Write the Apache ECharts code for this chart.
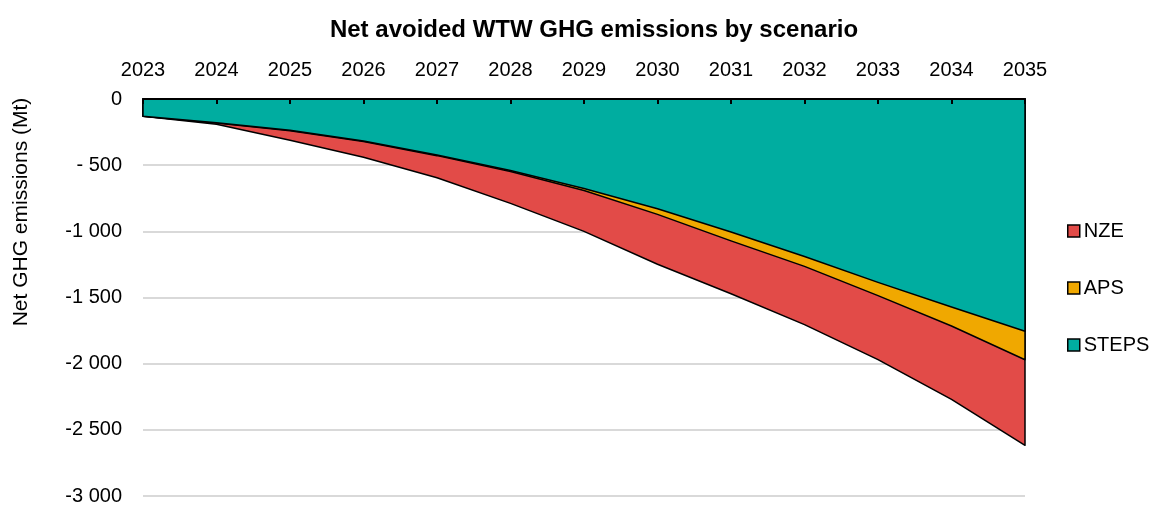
<!DOCTYPE html>
<html>
<head>
<meta charset="utf-8">
<script src="https://cdn.jsdelivr.net/npm/echarts@6/dist/echarts.min.js"></script>
<style>
html,body{margin:0;padding:0;background:#fff;}
#chart{width:1149px;height:506px;}
</style>
</head>
<body>
<div id="chart"></div>
<script>
var years = ['2023','2024','2025','2026','2027','2028','2029','2030','2031','2032','2033','2034','2035'];
var steps = [-130, -180, -237, -318, -423, -540, -677, -830, -1005, -1190, -1386, -1572, -1755];
var aps   = [-130, -182, -240, -322, -428, -548, -692, -872, -1072, -1265, -1486, -1715, -1970];
var nze   = [-130, -190, -312, -440, -595, -789, -1000, -1249, -1472, -1705, -1970, -2270, -2617];
var yTickValues = [0, -500, -1000, -1500, -2000, -2500, -3000];
var yTickLabels = ['0', '- 500', '-1 000', '-1 500', '-2 000', '-2 500', '-3 000'];

var colors = {NZE: '#e24b48', APS: '#f0a800', STEPS: '#00ada0'};
var FONT = 'Liberation Sans, Arial, sans-serif';

function makeSeries(name, values) {
  return {
    name: name,
    type: 'custom',
    itemStyle: {color: colors[name]},
    encode: {x: 0, y: 1},
    data: values.map(function (v, i) { return [i, v]; }),
    renderItem: function (params, api) {
      if (params.dataIndex !== 0) return null;
      var pts = [api.coord([0, 0])];
      for (var i = 0; i < values.length; i++) pts.push(api.coord([i, values[i]]));
      pts.push(api.coord([values.length - 1, 0]));
      return {
        type: 'polygon',
        shape: {points: pts},
        style: {fill: colors[name], stroke: '#000', lineWidth: 1.5, lineJoin: 'round'}
      };
    }
  };
}

var chart = echarts.init(document.getElementById('chart'));
chart.setOption({
  animation: false,
  backgroundColor: '#fff',
  textStyle: {fontFamily: FONT},
  title: {
    text: 'Net avoided WTW GHG emissions by scenario',
    left: 589, top: 13, textAlign: 'center',
    textStyle: {fontSize: 24, fontWeight: 'bold', color: '#000', fontFamily: FONT}
  },
  grid: {left: 143, right: 124, top: 99, bottom: 5, containLabel: false},
  legend: {
    orient: 'vertical', left: 1062, top: 216,
    itemWidth: 12, itemHeight: 12, itemGap: 37,
    icon: 'rect',
    data: ['NZE', 'APS', 'STEPS'],
    itemStyle: {borderColor: '#000', borderWidth: 1.5},
    textStyle: {fontSize: 20, color: '#000', padding: [0, 0, 0, -1], fontFamily: FONT}
  },
  xAxis: {
    type: 'category', data: years, position: 'top', boundaryGap: false,
    axisLine: {show: true, lineStyle: {color: '#000', width: 2}},
    axisTick: {show: true, inside: true, length: 5, lineStyle: {color: '#000', width: 2}},
    axisLabel: {fontSize: 20, color: '#000', margin: 19, fontFamily: FONT},
    splitLine: {show: false},
    z: 10
  },
  yAxis: {
    type: 'value', min: -3000, max: 0, interval: 500,
    axisLine: {show: false}, axisTick: {show: false},
    axisLabel: {
      fontSize: 20, color: '#000', margin: 21, fontFamily: FONT,
      formatter: function (v) { var k = yTickValues.indexOf(v); return k >= 0 ? yTickLabels[k] : ''; }
    },
    splitLine: {show: true, lineStyle: {color: '#d9d9d9', width: 2}}
  },
  graphic: [{
    type: 'text', x: 21, y: 212, rotation: Math.PI / 2,
    style: {text: 'Net GHG emissions (Mt)', fontSize: 21, fill: '#000', align: 'center', verticalAlign: 'middle', fontFamily: FONT}
  }],
  series: [makeSeries('NZE', nze), makeSeries('APS', aps), makeSeries('STEPS', steps)]
});
</script>
</body>
</html>
